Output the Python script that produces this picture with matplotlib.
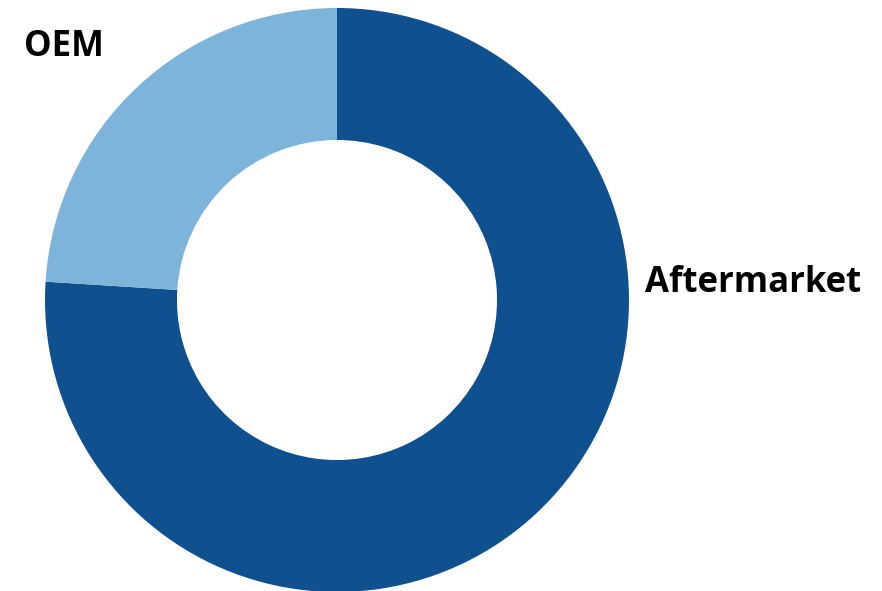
import matplotlib
matplotlib.use('Agg')
import matplotlib.pyplot as plt

labels = ['Aftermarket', 'OEM']
shares = [76, 24]
colors = ['#10508F', '#7EB4DA']

# pixel geometry of the reference: centre (337, 300), radius 292
W, H = 882, 591
cx, cy, r = 337, 300, 292

fig = plt.figure(figsize=(W / 100, H / 100), dpi=100)
ax = fig.add_axes([0, 0, 1, 1])
ax.pie(shares, colors=colors, startangle=90, counterclock=False,
       radius=1, wedgeprops=dict(width=0.452, edgecolor='none'))
ax.set_xlim(-cx / r, (W - cx) / r)
ax.set_ylim(-(H - cy) / r, cy / r)
ax.set_aspect('equal')
ax.axis('off')

font = dict(family=['Open Sans', 'DejaVu Sans'], fontweight='bold', fontsize=25, color='black')
ax.text((645 - cx) / r, (cy - 283) / r, labels[0], ha='left', va='center', **font)
ax.text((24 - cx) / r, (cy - 47) / r, labels[1], ha='left', va='center', **font)

fig.savefig('out.png', dpi=100)
